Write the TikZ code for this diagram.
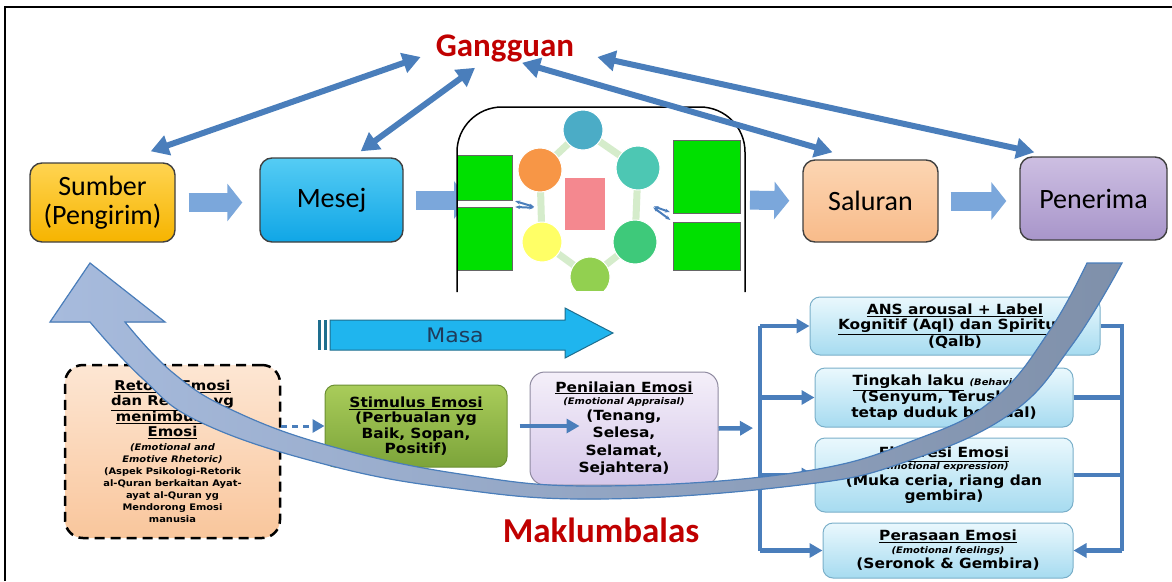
\documentclass[tikz,border=0pt]{standalone}
\usepackage{fontspec}
\setmainfont{Carlito}
\newfontfamily\wide[FakeStretch=1.1]{DejaVu Sans}
\usetikzlibrary{arrows.meta}
\newcommand{\smalltxt}{\fontsize{9}{11}\selectfont}
\definecolor{ggblue}{HTML}{4A7EBB}
\definecolor{blkblue}{HTML}{7BA7DB}
\definecolor{boxline}{HTML}{404040}
\definecolor{gred}{HTML}{C00000}
\definecolor{sumT}{HTML}{FFD451}\definecolor{sumB}{HTML}{F6B400}
\definecolor{mesT}{HTML}{55CCF4}\definecolor{mesB}{HTML}{10A6E6}
\definecolor{salT}{HTML}{FCD5B2}\definecolor{salB}{HTML}{F8BB8A}
\definecolor{penT}{HTML}{CDBFE2}\definecolor{penB}{HTML}{A895CA}
\definecolor{retT}{HTML}{FDE6D3}\definecolor{retB}{HTML}{F9C69C}
\definecolor{stiT}{HTML}{A9CC5A}\definecolor{stiB}{HTML}{7CA43A}\definecolor{stiL}{HTML}{6B8F33}
\definecolor{pnlT}{HTML}{F4EFF9}\definecolor{pnlB}{HTML}{D6C8EA}\definecolor{pnlL}{HTML}{8F8AA0}
\definecolor{fbT}{HTML}{EAF8FD}\definecolor{fbB}{HTML}{A6DBF0}\definecolor{fbL}{HTML}{7AAFC9}
\definecolor{masablue}{HTML}{1FB5EE}\definecolor{masaline}{HTML}{1E6E8E}\definecolor{masatext}{HTML}{1F3B5A}
\definecolor{bigL}{HTML}{A7BBDD}\definecolor{bigR}{HTML}{7F90AA}
\definecolor{cA}{HTML}{4BACC6}\definecolor{cB}{HTML}{4DC7B3}\definecolor{cC}{HTML}{3EC97A}
\definecolor{cD}{HTML}{92D050}\definecolor{cE}{HTML}{FFFF66}\definecolor{cF}{HTML}{F79646}
\definecolor{ringc}{HTML}{D5ECCB}\definecolor{pinkc}{HTML}{F4888F}\definecolor{greenc}{HTML}{00E000}

\begin{document}
\begin{tikzpicture}[x=1pt,y=-1pt,
  box/.style={rounded corners=12pt,draw=boxline,line width=1.4pt,align=center,
    font=\fontsize{28}{29}\selectfont,inner sep=2pt},
  small/.style={align=center,inner sep=2pt,font=\wide\bfseries\fontsize{14}{15.5}\selectfont},
  fbbox/.style={small,rounded corners=10pt,draw=fbL,line width=1pt,top color=fbT,bottom color=fbB},
  blk/.style={line width=19pt,draw=blkblue,-{Triangle[length=15pt,width=37pt]}},
  gg/.style={line width=6pt,draw=ggblue,{Triangle[length=18pt,width=20pt]}-{Triangle[length=18pt,width=20pt]}},
  fb/.style={line width=4.5pt,draw=ggblue,-{Triangle[length=13pt,width=14pt]}},
  fbline/.style={line width=4.5pt,draw=ggblue},
  title/.style={font=\bfseries\fontsize{33}{33}\selectfont,text=gred,inner sep=0pt}]
\useasboundingbox (0,0) rectangle (1172,581);
\draw[line width=2pt] (5,581) -- (5,7) -- (1172,7);

% titles
\node[title] (gang) at (505,48) {Gangguan};
\node[title,font=\bfseries\fontsize{35}{35}\selectfont] (mak) at (601,530) {Maklumbalas};

% communication chain
\node[box,top color=sumT,bottom color=sumB,minimum width=145pt,minimum height=79pt] (sumber) at (102.5,202.5) {Sumber\\(Pengirim)};
\node[box,top color=mesT,bottom color=mesB,minimum width=143pt,minimum height=84pt] (mesej) at (331.5,200) {Mesej};
\node[box,top color=salT,bottom color=salB,minimum width=135pt,minimum height=82pt] (saluran) at (870.5,201) {Saluran};
\node[box,top color=penT,bottom color=penB,minimum width=147pt,minimum height=83pt] (penerima) at (1093.5,198.5) {Penerima};
\coordinate (imgW) at (457,200);
\coordinate (imgE) at (745,200);

\draw[blk,shorten <=13pt,shorten >=17pt] (sumber.east) -- (sumber.east -| mesej.west);
\draw[blk,shorten <=12pt,shorten >=-12pt] (mesej.east) -- (imgW);
\draw[blk,shorten <=5pt,shorten >=13pt] (imgE) -- (saluran.west);
\draw[blk,shorten <=12pt,shorten >=13pt] (saluran.east) -- (saluran.east -| penerima.west);

% inset picture
\filldraw[fill=white,draw=black,line width=1.5pt,rounded corners=45pt] (457,292) -- (457,107) -- (745,107) -- (745,292);
\begin{scope}
  \clip (458,108) rectangle (744,290);
  \node[draw=black!60,fill=greenc,minimum width=57pt,minimum height=45pt,inner sep=0pt] (g1) at (483.5,177.5) {};
  \node[draw=black!60,fill=greenc,minimum width=57pt,minimum height=63pt,inner sep=0pt] (g2) at (483.5,238.5) {};
  \node[draw=black!60,fill=greenc,minimum width=67pt,minimum height=73pt,inner sep=0pt] (g3) at (706.5,176.5) {};
  \node[draw=black!60,fill=greenc,minimum width=67pt,minimum height=48pt,inner sep=0pt] (g4) at (706.5,246) {};
  \foreach \n/\x/\y in {1/583/130,2/638/168,3/635/242,4/590/277,5/542/242,6/540/170}
    \coordinate (p\n) at (\x,\y);
  \draw[ringc,line width=7pt] (p1) -- (p2) -- (p3) -- (p4) -- (p5) -- (p6) -- cycle;
  \foreach \n/\c/\r in {1/cA/40,2/cB/44,3/cC/44,4/cD/40,5/cE/40,6/cF/44}
    \node[circle,fill=\c,draw=white,line width=1pt,minimum size=\r pt] (c\n) at (p\n) {};
  \node[fill=pinkc,minimum width=40pt,minimum height=52pt,inner sep=0pt] (mid) at (585,204) {};
  \coordinate (rl) at (538,208);
  \coordinate (rr) at (650,205);
  \draw[ggblue,line width=2pt,{Stealth[length=5pt]}-{Stealth[length=5pt]},shorten <=3pt,shorten >=4pt] (g1.south east) -- (rl);
  \draw[ggblue,line width=2pt,{Stealth[length=5pt]}-{Stealth[length=5pt]},shorten <=3pt,shorten >=4pt] (g2.north east) -- (rl);
  \draw[ggblue,line width=2pt,{Stealth[length=5pt]}-{Stealth[length=5pt]},shorten <=3pt,shorten >=4pt] (g3.south west) -- (rr);
  \draw[ggblue,line width=2pt,{Stealth[length=5pt]}-{Stealth[length=5pt]},shorten <=3pt,shorten >=4pt] (g4.north west) -- (rr);
\end{scope}

% noise arrows
\draw[gg] ([shift={(-25,-11)}]sumber.north east) -- ([shift={(-15,9)}]gang.west);
\draw[gg] ([shift={(-43,-6)}]mesej.north east) -- ([shift={(-30,6)}]gang.south);
\draw[gg] ([shift={(-38,-7)}]saluran.north) -- ([shift={(17,1)}]gang.south);
\draw[gg] ([shift={(15,-4)}]penerima.north west) -- ([shift={(23,9)}]gang.east);

% time arrow
\filldraw[fill=masablue,draw=masaline,line width=1pt] (330,320) -- (565,320) -- (565,308) -- (613,333) -- (565,358) -- (565,350) -- (330,350) -- cycle;
\fill[masaline] (318,320) rectangle (321,350);
\fill[masaline] (324,320) rectangle (327,350);
\node[font=\wide\fontsize{20}{20}\selectfont,text=masatext] (masa) at (455,335) {Masa};

% feedback part
\node[small,font=\wide\bfseries\fontsize{13.5}{15}\selectfont,rounded corners=18pt,draw=black,line width=2.5pt,
  dash pattern=on 10pt off 6pt,top color=retT,bottom color=retB,minimum width=215pt,minimum height=173pt] (retorik) at (172.5,451.5)
  {\underline{Retorik Emosi}\\ \underline{dan Retorik yg}\\ \underline{menimbulkan}\\ \underline{Emosi}\\[-1pt]
   \smalltxt\itshape (Emotional and\\[-3pt] \smalltxt\itshape Emotive Rhetoric)\\[-3pt]
   \smalltxt (Aspek Psikologi-Retorik\\[-3pt] \smalltxt al-Quran berkaitan Ayat-\\[-3pt] \smalltxt ayat al-Quran yg\\[-3pt]
   \smalltxt Mendorong Emosi\\[-3pt] \smalltxt manusia};
\node[small,rounded corners=10pt,draw=stiL,line width=1pt,top color=stiT,bottom color=stiB,
  minimum width=182pt,minimum height=82pt] (stim) at (416,426)
  {\underline{Stimulus Emosi}\\ (Perbualan yg\\ Baik, Sopan,\\ Positif)};
\node[small,rounded corners=15pt,draw=pnlL,line width=1pt,top color=pnlT,bottom color=pnlB,
  minimum width=188pt,minimum height=113pt] (pen) at (624,428.5)
  {\underline{Penilaian Emosi}\\[-3pt] \smalltxt\itshape (Emotional Appraisal)\\
   (Tenang,\\[2pt] Selesa,\\[2pt] Selamat,\\[2pt] Sejahtera)};
\node[fbbox,minimum width=290pt,minimum height=58pt] (ans) at (955,326)
  {\underline{ANS arousal + Label}\\ \underline{Kognitif (Aql) dan Spiritual}\\ (Qalb)};
\node[fbbox,minimum width=258pt,minimum height=59pt] (ting) at (944,397.5)
  {\underline{Tingkah laku} {\smalltxt\itshape (Behaviour)}\\ (Senyum, Teruskan\\ tetap duduk berbual)};
\node[fbbox,minimum width=258pt,minimum height=74pt] (eks) at (944,475)
  {\underline{Ekspresi Emosi}\\[-3pt] \smalltxt\itshape (Emotional expression)\\ (Muka ceria, riang dan\\ gembira)};
\node[fbbox,minimum width=250pt,minimum height=55pt] (per) at (948,550.5)
  {\underline{Perasaan Emosi}\\[-3pt] \smalltxt\itshape (Emotional feelings)\\ (Seronok \& Gembira)};

\draw[fb,shorten <=12pt,shorten >=-50pt] (stim.east) -- (stim.east -| pen.west);
\coordinate (brL) at (760,428);
\coordinate (brR) at (1122,428);
\draw[fb,shorten >=7pt] (pen.east) -- (brL);
\draw[fbline] (brL |- ans.west) -- (brL |- per.west);
\draw[fb] (brL |- ans.west) -- (ans.west);
\draw[fb] (brL |- ting.west) -- (ting.west);
\draw[fb] (brL |- eks.west) -- (eks.west);
\draw[fb] (brL |- per.west) -- (per.west);
\draw[fbline] (ans.east) -- (brR |- ans.east) -- (brR |- per.east);
\draw[fbline] (ting.east) -- (brR |- ting.east);
\draw[fbline] (eks.east) -- (brR |- eks.east);
\draw[fb] (brR |- per.east) -- (per.east);

% big feedback arrow
\filldraw[left color=bigL,right color=bigR,draw=ggblue,line width=1.2pt]
  (90,263) -- (165,322) -- plot[smooth,tension=0.7] coordinates {(125,322) (172,372) (232,410) (330,446) (460,474) (600,486) (800,472) (920,438) (995,398) (1050,330) (1087,263)}
  -- plot[smooth,tension=0.7] coordinates {(1122,263) (1072,345) (1010,414) (905,462) (800,485) (600,499) (450,488) (320,463) (200,422) (142,378) (90,322)}
  -- (50,322) -- cycle;

\draw[ggblue,line width=3pt,dash pattern=on 6pt off 5pt,-{Triangle[length=12pt,width=13pt]}] (retorik.east |- stim.west) -- (stim.west);
\end{tikzpicture}
\end{document}
